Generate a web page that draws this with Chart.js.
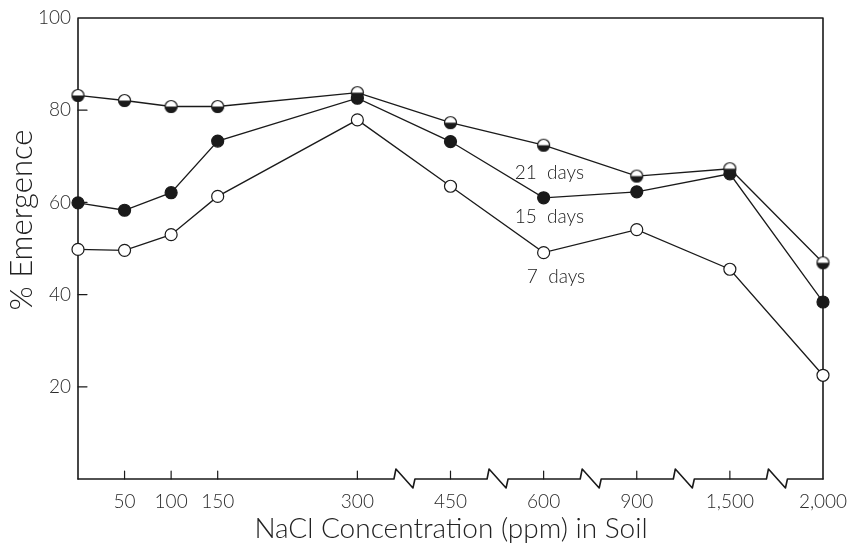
<!DOCTYPE html>
<html>
<head>
<meta charset="utf-8">
<script src="https://cdn.jsdelivr.net/npm/chart.js@4.4.1/dist/chart.umd.min.js"></script>
<style>
  html, body { margin: 0; padding: 0; background: #fff; }
  #wrap { width: 854px; height: 543px; position: relative; }
</style>
</head>
<body>
<div id="wrap"><canvas id="c" width="854" height="543"></canvas></div>
<script>
// ---- data ----
const categories = ['0', '50', '100', '150', '300', '450', '600', '900', '1,500', '2,000'];
const ppm        = [0, 50, 100, 150, 300, 450, 600, 900, 1500, 2000];
// position of each concentration along the broken x axis (axis units)
const axisPos    = [0, 50, 100, 150, 300, 400, 500, 600, 700, 800];
const breakPos   = [350, 450, 550, 650, 750];
const days21 = [83.2, 82.1, 80.8, 80.8, 83.8, 77.3, 72.4, 65.7, 67.3, 46.9];
const days15 = [59.9, 58.3, 62.1, 73.3, 82.6, 73.2, 61.0, 62.3, 66.2, 38.4];
const days7  = [49.8, 49.6, 53.0, 61.3, 77.9, 63.5, 49.1, 54.1, 45.5, 22.5];
const yTicks = [20, 40, 60, 80, 100];
const seriesLabels = ['21  days', '15  days', '7  days'];
const labelX = [469, 469, 482];
const labelY = [66.4, 56.8, 43.8];

const FONT = "Lato, 'Open Sans', 'DejaVu Sans', sans-serif";
const INK = '#1a1a1a';

function halfPoint() {
  const c = document.createElement('canvas');
  c.width = 15; c.height = 15;
  const g = c.getContext('2d');
  g.beginPath(); g.arc(7.5, 7.5, 6, 0, Math.PI * 2); g.fillStyle = '#fff'; g.fill();
  g.beginPath(); g.arc(7.5, 7.5, 6, 0, Math.PI); g.closePath(); g.fillStyle = INK; g.fill();
  g.beginPath(); g.arc(7.5, 7.5, 6, 0, Math.PI * 2); g.lineWidth = 1.2; g.strokeStyle = INK; g.stroke();
  return c;
}

function pts(arr) { return axisPos.map((x, i) => ({ x: x, y: arr[i] })); }

const framePlugin = {
  id: 'frame',
  beforeDatasetsDraw(chart) {
    const ctx = chart.ctx, a = chart.chartArea;
    const xs = chart.scales.x, ys = chart.scales.y;
    ctx.save();
    ctx.strokeStyle = INK; ctx.lineWidth = 1.6; ctx.lineCap = 'round'; ctx.lineJoin = 'round';
    // left, top, right frame
    ctx.beginPath();
    ctx.moveTo(a.left, a.bottom); ctx.lineTo(a.left, a.top);
    ctx.lineTo(a.right, a.top); ctx.lineTo(a.right, a.bottom);
    ctx.stroke();
    // bottom axis with breaks
    const yb = a.bottom;
    ctx.beginPath();
    ctx.moveTo(a.left, yb);
    breakPos.forEach(b => {
      const bx = xs.getPixelForValue(b);
      ctx.lineTo(bx - 10, yb);
      ctx.lineTo(bx - 8, yb - 10);
      ctx.lineTo(bx + 9, yb + 9);
      ctx.lineTo(bx + 11, yb);
    });
    ctx.lineTo(a.right, yb);
    ctx.stroke();
    // ticks
    ctx.lineWidth = 1.2;
    ctx.beginPath();
    axisPos.slice(1, -1).forEach(v => {
      const px = xs.getPixelForValue(v);
      ctx.moveTo(px, yb); ctx.lineTo(px, yb - 8);
    });
    yTicks.slice(0, -1).forEach(v => {
      const py = ys.getPixelForValue(v);
      ctx.moveTo(a.left, py); ctx.lineTo(a.left + 9, py);
    });
    ctx.stroke();
    ctx.restore();
  },
  afterDraw(chart) {
    const ctx = chart.ctx, a = chart.chartArea;
    const xs = chart.scales.x, ys = chart.scales.y;
    ctx.save();
    ctx.fillStyle = '#222';
    ctx.textBaseline = 'middle';
    ctx.textAlign = 'left';
    ctx.font = '300 19px ' + FONT;
    seriesLabels.forEach((t, i) => {
      ctx.fillText(t, xs.getPixelForValue(labelX[i]), ys.getPixelForValue(labelY[i]));
    });
    // axis titles
    ctx.textAlign = 'center';
    ctx.font = '300 28px ' + FONT;
    ctx.fillText('NaCl Concentration (ppm) in Soil', 451, 529);
    ctx.save();
    ctx.translate(22, 220);
    ctx.rotate(-Math.PI / 2);
    ctx.font = '300 31px ' + FONT;
    ctx.fillText('% Emergence', 0, 0);
    ctx.restore();
    ctx.restore();
  }
};

const common = { borderColor: INK, borderWidth: 1.3, tension: 0, clip: false, pointRadius: 6, pointHoverRadius: 6, pointBorderWidth: 1.2, pointBorderColor: INK };

new Chart(document.getElementById('c'), {
  type: 'line',
  data: {
    datasets: [
      Object.assign({ label: '21 days', data: pts(days21), pointStyle: halfPoint(), backgroundColor: '#fff' }, common),
      Object.assign({ label: '15 days', data: pts(days15), pointStyle: 'circle', pointBackgroundColor: INK, backgroundColor: INK }, common),
      Object.assign({ label: '7 days', data: pts(days7), pointStyle: 'circle', pointBackgroundColor: '#fff', backgroundColor: '#fff' }, common)
    ]
  },
  options: {
    responsive: false,
    animation: false,
    devicePixelRatio: 1,
    layout: { padding: { top: 18, right: 31, left: 0, bottom: 0 } },
    plugins: { legend: { display: false }, tooltip: { enabled: false } },
    scales: {
      x: {
        type: 'linear', min: 0, max: 800,
        grid: { display: false, drawTicks: false },
        border: { display: false },
        afterBuildTicks: s => { s.ticks = axisPos.slice(1).map(v => ({ value: v })); },
        afterFit: s => { s.height = 64; s.paddingLeft = 0; s.paddingRight = 0; },
        ticks: {
          autoSkip: false, maxRotation: 0, padding: 11,
          color: '#2a2a2a', font: { family: FONT, size: 19, weight: 300 },
          callback: v => categories[axisPos.indexOf(v)]
        }
      },
      y: {
        min: 0, max: 100,
        grid: { display: false, drawTicks: false },
        border: { display: false },
        afterBuildTicks: s => { s.ticks = yTicks.map(v => ({ value: v })); },
        afterFit: s => { s.width = 78; s.paddingTop = 0; s.paddingBottom = 0; },
        ticks: {
          padding: 7,
          color: '#2a2a2a', font: { family: FONT, size: 19, weight: 300 }
        }
      }
    }
  },
  plugins: [framePlugin]
});
</script>
</body>
</html>
